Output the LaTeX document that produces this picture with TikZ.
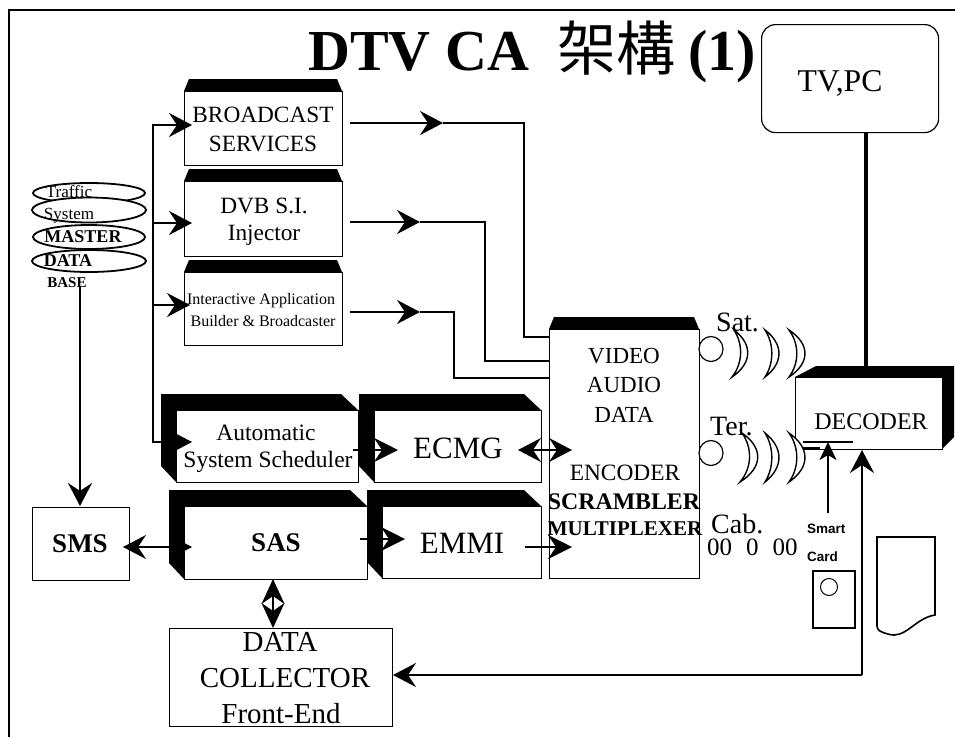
\documentclass[tikz,border=0pt]{standalone}
\usepackage{fontspec}
\setmainfont{Liberation Serif}
\newfontfamily\cjk{Noto Sans CJK TC}
\newfontfamily\hv{Liberation Sans}
\usetikzlibrary{arrows.meta,shapes.geometric}
\tikzset{
 x=1pt,y=-1pt,
 wire/.style={line width=2.6pt,line join=miter},
 bodybox/.style={draw,line width=1pt,fill=white,inner sep=0pt,anchor=north west},
 head/.style={-{Stealth[length=23pt,width=24pt,inset=8pt]}},
 smallhead/.style={-{Stealth[length=18pt,width=17pt,inset=5pt]}},
 both/.style={{Stealth[length=23pt,width=24pt,inset=8pt]}-{Stealth[length=23pt,width=24pt,inset=8pt]},line width=2pt},
 single/.style={-{Stealth[length=24pt,width=24pt,inset=8pt]},line width=2pt},
 tall/.style={{Stealth[length=25pt,width=23pt,inset=8pt]}-{Stealth[length=25pt,width=23pt,inset=8pt]},line width=2pt},
 lab/.style={inner sep=0pt,align=center,font=\fontsize{#1}{#1}\selectfont},
 blab/.style={inner sep=0pt,align=center,font=\fontsize{#1}{#1}\selectfont\bfseries},
 slab/.style={inner sep=0pt,anchor=west,font=\fontsize{#1}{#1}\selectfont\hv\bfseries},
 disc/.style={draw,line width=1.8pt,fill=white,inner sep=0pt,ellipse},
 wavecres/.style={draw,line width=1.4pt,fill=white},
}
% name, x1, y1, x2, y2
\newcommand{\topbox}[5]{%
 \fill (#2+5,#3-12) -- (#4-5,#3-12) -- (#4,#3) -- (#2,#3) -- cycle;
 \node[bodybox,minimum width=#4-#2,minimum height=#5-#3] (#1) at (#2,#3) {};
}
% name, x1, y1, x2, y2 : dark top and left
\newcommand{\darkbox}[5]{%
 \fill (#2-15,#3-16) -- (#4-17,#3-16) -- (#4,#3) -- (#2,#3) -- (#2,#5) -- (#2-15,#5-16) -- cycle;
 \node[bodybox,minimum width=#4-#2,minimum height=#5-#3] (#1) at (#2,#3) {};
}
% top x, y, bottom x, bulge x, height
\newcommand{\cres}[5]{%
 \path[wavecres] (#1,#2) .. controls (#1+1.33*#4-1.33*#1,#2+#5*.3) and (#1+1.33*#4-1.33*#1,#2+#5*.7) .. (#3,#2+#5)
   .. controls (#1+.65*#4-.65*#1,#2+#5*.7) and (#1+.65*#4-.65*#1,#2+#5*.3) .. (#1,#2) -- cycle;
}
\begin{document}
\begin{tikzpicture}
\useasboundingbox (0,0) rectangle (955,737);
\fill[white] (0,0) rectangle (955,737);
% frame
\coordinate (fa) at (9,737);\coordinate (fb) at (9,10);\coordinate (fc) at (955,10);
\draw[line width=2.6pt] (fa) -- (fb) -- (fc);
% title
\node[anchor=base west,inner sep=0pt,font=\fontsize{58}{58}\selectfont\bfseries] (title) at (308,70) {DTV CA};
\node[anchor=base west,inner sep=0pt,font=\fontsize{59}{59}\selectfont\cjk] (titlecjk) at (557,70) {架構};
\node[anchor=base west,inner sep=0pt,font=\fontsize{58}{58}\selectfont\bfseries] (titlen) at (688,70) {(1)};
% TV
\node[bodybox,line width=1.2pt,rounded corners=14pt,minimum width=177pt,minimum height=108pt] (tv) at (761,24) {};
\node[lab=31.7] (tvt) at (840,83) {TV,PC};
% wires to encoder first
\coordinate (o1) at (350,123);\coordinate (o2) at (350,222);\coordinate (o3) at (350,312);
\coordinate (m1) at (443,123);\coordinate (m2) at (420,222);\coordinate (m3) at (420,312);
\coordinate (e1) at (549,337);\coordinate (e2) at (549,361);\coordinate (e3) at (549,378);
\draw[wire,head] (o1) -- (m1);
\draw[wire,head] (o2) -- (m2);
\draw[wire,head] (o3) -- (m3);
\draw[wire] (m1) -- (524,123) -- (524,337) -- (e1);
\draw[wire] (m2) -- (485,222) -- (485,361) -- (e2);
\draw[wire] (m3) -- (454,312) -- (454,378) -- (e3);
% top boxes
\topbox{bs}{184}{91}{342}{165}
\node[lab=23.3] (bst) at (263,115) {BROADCAST};
\node[lab=23.3] (bst2) at (263,144) {SERVICES};
\topbox{dvb}{184}{181}{342}{256}
\node[lab=23.3] (dvbl) at (264,206) {DVB S.I.};
\node[lab=23.3] (dvbm) at (264,235) {Injector};
\topbox{iab}{184}{272}{342}{345}
\node[lab=16] (iabt) at (261,301) {Interactive Application};
\node[lab=16] (iabt2) at (263,321) {Builder \& Broadcaster};
% encoder
\topbox{enc}{549}{329}{699}{578}
\node[lab=23] (t1) at (624,356) {VIDEO};
\node[lab=23] (t2) at (624,385) {AUDIO};
\node[lab=23] (t3) at (624,415) {DATA};
\node[lab=23.4] (t4) at (625,473) {ENCODER};
\node[blab=23.8] (t5) at (624,502) {SCRAMBLER};
\node[blab=21] (t6) at (625,529) {MULTIPLEXER};
% dark boxes
\darkbox{auto}{176}{410}{358}{482}
\node[lab=23.5] (a1) at (266,433) {Automatic};
\node[lab=23.5] (a2) at (268,462) {System Scheduler};
\darkbox{ecmg}{374}{410}{541}{482}
\node[lab=31] (a3) at (458,448) {ECMG};
\darkbox{sas}{184}{506}{367}{579}
\node[blab=27] (a4) at (276,543) {SAS};
\darkbox{emmi}{382}{506}{541}{578}
\node[lab=31] (a5) at (462,543) {EMMI};
% SMS, collector
\node[bodybox,minimum width=97pt,minimum height=73pt] (sms) at (32,507) {};
\node[blab=27] (a6) at (80,544) {SMS};
\node[bodybox,minimum width=223pt,minimum height=98pt] (dc) at (169,628) {};
\node[lab=29] (d1) at (280,642) {DATA};
\node[lab=29] (d2) at (285,678) {COLLECTOR};
\node[lab=29] (d3) at (281,714) {Front-End};
% decoder
\fill (816,366) -- (954,366) -- (954,437) -- (942,449) -- (942,377) -- (795,377) -- cycle;
\node[bodybox,minimum width=147pt,minimum height=72pt] (dec) at (795,377) {};
\node[lab=24] (d4) at (871,422) {DECODER};
\draw[line width=4pt] (866,132) -- (866,366);
% database
\node[disc,minimum width=112pt,minimum height=20pt] (e1a) at (89,193) {};
\node[disc,minimum width=114pt,minimum height=25pt] (e2a) at (89,210) {};
\node[disc,minimum width=112pt,minimum height=24pt] (e3a) at (89,237) {};
\node[disc,minimum width=114pt,minimum height=22pt] (e4a) at (89,261) {};
\node[lab=17] (b1) at (69,192) {Traffic};
\node[lab=17] (b2) at (69,216) {System};
\node[blab=18] (b3) at (83,237) {MASTER};
\node[blab=18] (b4) at (68,261) {DATA};
\node[blab=15] (b5) at (67,283) {BASE};
% left wires
\coordinate (db) at (80,287);
\draw[wire,head] (db) -- (80,506);
\coordinate (bus) at (153,125);
\draw[wire,head] (153,442) -- (bus) -- (192,125);
\draw[wire,head] (153,223) -- (192,223);
\draw[wire,head] (153,305) -- (190,305);
\draw[wire,head] (153,425) -- (153,442) -- (192,442);
% double arrows
\draw[both] (123,547) -- (192,547);
\draw[single] (353,450) -- (398,450);
\draw[single] (360,539) -- (405,539);
\draw[both] (518,450) -- (572,450);
\draw[single] (525,547) -- (572,547);
\draw[tall] (273,579) -- (273,628);
% decoder feedback
\draw[wire,head] (862,675) -- (393,675);
\draw[wire,head] (862,675) -- (862,450);
% radio
\node[disc,line width=1.2pt,minimum width=24pt,minimum height=25pt] (c1) at (711,349) {};
\node[disc,line width=1.2pt,minimum width=24pt,minimum height=25pt] (c2) at (711,453) {};
\cres{734}{330}{732}{748}{47}
\cres{765}{330}{765}{779}{47}
\cres{789}{330}{789}{805}{47}
\cres{742}{433}{740}{758}{49}
\cres{765}{433}{765}{779}{49}
\cres{789}{433}{789}{805}{49}
\node[lab=28,anchor=west] (s1) at (716,322) {Sat.};
\node[lab=28,anchor=west] (s2) at (710,427) {Ter.};
\node[lab=28,anchor=west] (s3) at (711,524) {Cab.};
\node[lab=25,anchor=west] (s4) at (707,547) {00\hspace{14pt}0\hspace{14pt}00};
% smart card
\draw[line width=1.5pt] (803,442) -- (853,442);
\draw[line width=1.5pt] (803,448) -- (820,448);
\coordinate (sc) at (828,513);
\draw[wire,smallhead] (sc) -- (828,442);
\node[slab=13.5] (s5) at (807,529) {Smart};
\node[slab=13.5] (s6) at (807,557) {Card};
\node[draw,line width=2pt,inner sep=0pt,anchor=north west,minimum width=42pt,minimum height=57pt] (card) at (812,570) {};
\node[draw,line width=1pt,circle,minimum size=17pt,inner sep=0pt] (hole) at (829,587) {};
\draw[line width=1.6pt] (877,537) -- (935,537) -- (935,615) .. controls (915,618) and (905,640) .. (888,634) .. controls (880,632) and (877,630) .. (877,626) -- cycle;
\end{tikzpicture}
\end{document}
